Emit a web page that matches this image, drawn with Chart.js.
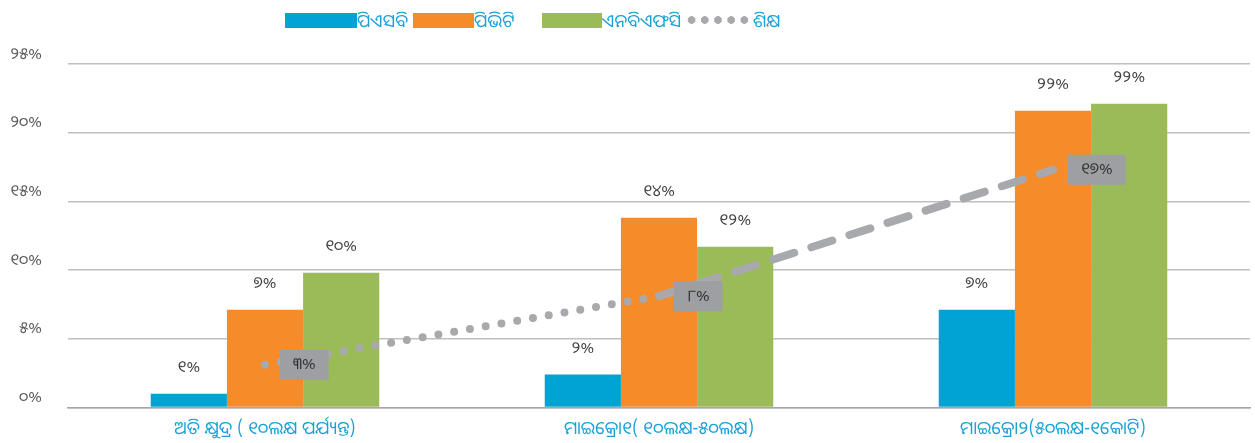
<!DOCTYPE html>
<html>
<head>
<meta charset="utf-8">
<script src="https://cdn.jsdelivr.net/npm/chart.js@4"></script>
<style>
    html, body { margin: 0; padding: 0; background: #fff; }
    #wrap { position: relative; width: 1255px; height: 443px; }
    #legend { position: absolute; top: 6px; left: 0; height: 28px; width: 1255px; font-family: "Noto Sans Oriya", "Noto Sans", sans-serif; font-size: 18px; color: #1BA1D6; }
    .item { position: absolute; top: 0; display: flex; align-items: center; height: 28px; }
    .box { display: inline-block; height: 15px; }
    .dots { display: inline-block; width: 66px; height: 8px; background: radial-gradient(circle, #A7A9AC 3.6px, transparent 4px) 0 0 / 13.2px 8px repeat-x; margin-right: 2px; }
</style>
</head>
<body>
<div id="wrap">
    <canvas id="chart" width="1255" height="443"></canvas>
    <div id="legend">
        <div class="item" style="left:285px"><span class="box" style="width:72px;background:#00A3D4"></span><span>ପିଏସବି</span></div>
        <div class="item" style="left:413px"><span class="box" style="width:61px;background:#F68B29"></span><span>ପିଭିଟି</span></div>
        <div class="item" style="left:542px"><span class="box" style="width:60px;background:#9BBB59"></span><span>ଏନବିଏଫସି</span></div>
        <div class="item" style="left:685px"><span class="dots"></span><span>ଶିକ୍ଷ</span></div>
    </div>
</div>
<script>
// categories and values (percent)
const categories = ["ଅତି କ୍ଷୁଦ୍ର ( ୧୦ଲକ୍ଷ ପର୍ଯ୍ୟନ୍ତ)", "ମାଇକ୍ରୋ୧( ୧୦ଲକ୍ଷ-୫୦ଲକ୍ଷ)", "ମାଇକ୍ରୋ୨(୫୦ଲକ୍ଷ-୧କୋଟି)"];
const psbValues = [1.0, 2.4, 7.1];
const pvtValues = [7.1, 13.8, 21.6];
const nbfcValues = [9.8, 11.7, 22.1];
const educationValues = [3.1, 8.1, 17.3];
const yTicks = [0, 5, 10, 15, 20, 25];

const seriesNames = ["ପିଏସବି", "ପିଭିଟି", "ଏନବିଏଫସି", "ଶିକ୍ଷ"];
const odiaFont = '"Noto Sans Oriya", "Noto Sans", sans-serif';

// western digits -> odia digits
function toOdia(n) {
    return String(n).replace(/[0-9]/g, d => String.fromCharCode(0x0B66 + Number(d)));
}

// value labels: plain text over bars, grey boxes next to the line points
const valueLabels = {
    id: 'valueLabels',
    afterDatasetsDraw(chart) {
        const ctx = chart.ctx;
        ctx.save();
        ctx.font = '16px ' + odiaFont;
        ctx.textAlign = 'center';
        ctx.textBaseline = 'middle';
        [1, 2, 3].forEach(di => {
            const meta = chart.getDatasetMeta(di);
            meta.data.forEach((bar, i) => {
                const v = chart.data.datasets[di].data[i];
                ctx.fillStyle = '#404040';
                ctx.fillText(toOdia(Math.round(v)) + '%', bar.x, bar.y - 26);
            });
        });
        const lineMeta = chart.getDatasetMeta(0);
        lineMeta.data.forEach((pt, i) => {
            const txt = toOdia(Math.round(educationValues[i])) + '%';
            const w = Math.max(46, ctx.measureText(txt).width + 26);
            const left = pt.x + 15;
            ctx.fillStyle = '#9D9FA2';
            ctx.fillRect(left, pt.y - 15, w, 30);
            ctx.fillStyle = '#333';
            ctx.fillText(txt, left + w / 2, pt.y);
        });
        ctx.restore();
    }
};

new Chart(document.getElementById('chart'), {
    data: {
        labels: categories,
        datasets: [
            {
                type: 'line',
                label: seriesNames[3],
                data: educationValues,
                borderColor: '#A7A9AC',
                borderWidth: 8,
                borderCapStyle: 'round',
                pointRadius: 0,
                fill: false,
                tension: 0,
                order: 0,
                segment: {
                    borderDash: ctx => ctx.p0DataIndex === 0 ? [0, 16] : [22, 18]
                }
            },
            { type: 'bar', label: seriesNames[0], data: psbValues, backgroundColor: '#00A3D4', order: 1 },
            { type: 'bar', label: seriesNames[1], data: pvtValues, backgroundColor: '#F68B29', order: 1 },
            { type: 'bar', label: seriesNames[2], data: nbfcValues, backgroundColor: '#9BBB59', order: 1 }
        ]
    },
    options: {
        responsive: false,
        animation: false,
        layout: { padding: { top: 64, right: 5, left: 0, bottom: 0 } },
        datasets: { bar: { categoryPercentage: 0.58, barPercentage: 1.0 } },
        plugins: {
            legend: { display: false },
            tooltip: { enabled: false }
        },
        scales: {
            x: {
                grid: { display: false },
                border: { color: '#A6A6A6', width: 1.5 },
                ticks: { color: '#1BA1D6', font: { family: odiaFont, size: 18 }, padding: 3 }
            },
            y: {
                min: 0,
                max: 25,
                afterBuildTicks: axis => { axis.ticks = yTicks.map(v => ({ value: v })); },
                afterFit: axis => { axis.width = 68; },
                grid: { color: '#BFBFBF', lineWidth: 1.5, drawTicks: false },
                border: { display: false },
                ticks: {
                    color: '#595959',
                    font: { family: odiaFont, size: 16 },
                    padding: 26,
                    labelOffset: -10,
                    callback: v => toOdia(v) + '%'
                }
            }
        }
    },
    plugins: [valueLabels]
});
</script>
</body>
</html>
